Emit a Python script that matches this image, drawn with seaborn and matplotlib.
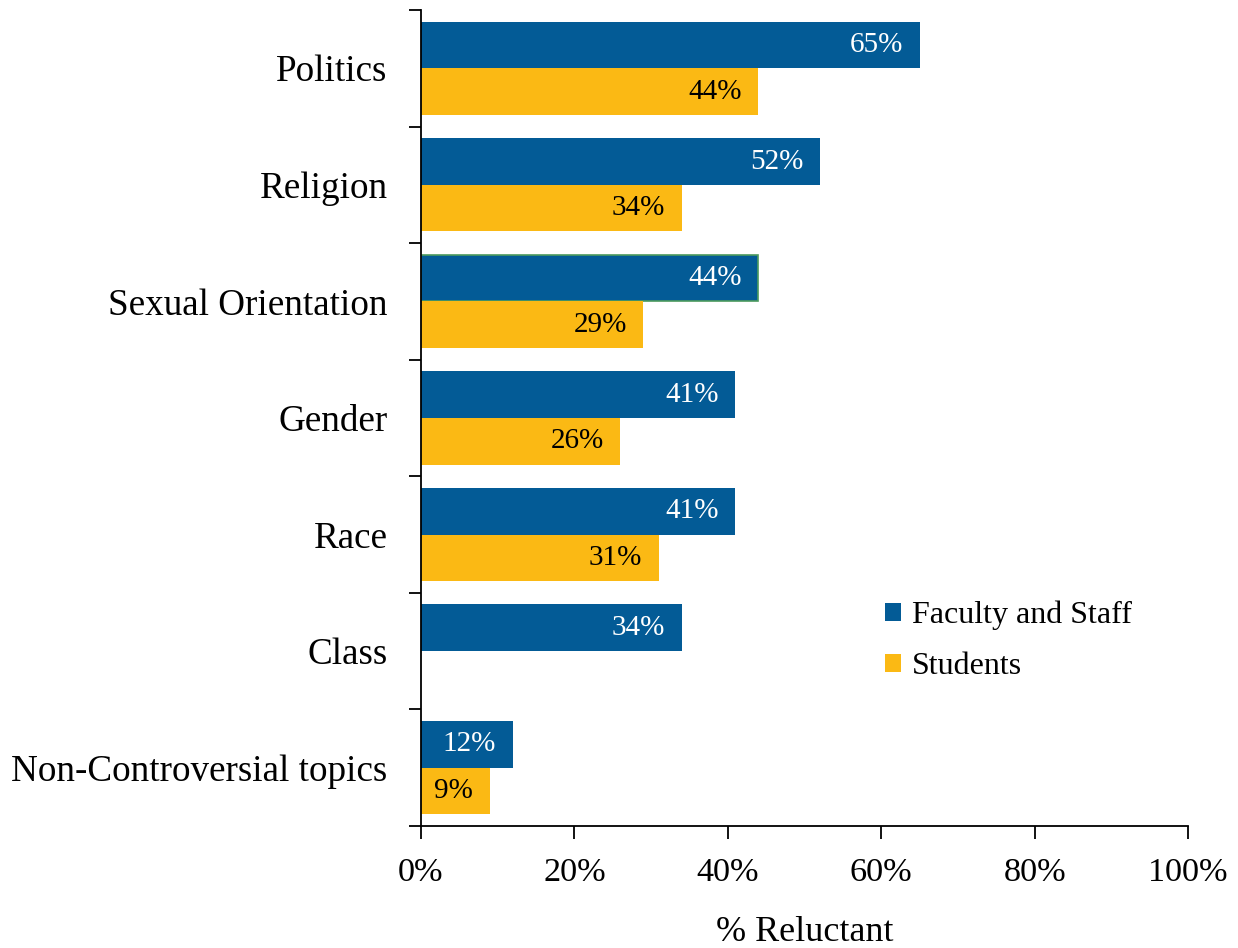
import numpy as np
import pandas as pd
import matplotlib
matplotlib.use("Agg")
import matplotlib.pyplot as plt
from matplotlib.patches import Patch
from matplotlib.ticker import FixedLocator, PercentFormatter
import seaborn as sns

# Share of respondents reluctant to discuss each topic (%)
topics = ["Politics", "Religion", "Sexual Orientation", "Gender", "Race",
          "Class", "Non-Controversial topics"]
faculty_staff = [65, 52, 44, 41, 41, 34, 12]
students = [44, 34, 29, 26, 31, np.nan, 9]
groups = ["Faculty and Staff", "Students"]
x_ticks = [0, 20, 40, 60, 80, 100]

BLUE = "#035B96"
GOLD = "#FBB914"

df = pd.DataFrame({
    "topic": topics * 2,
    "group": [groups[0]] * len(topics) + [groups[1]] * len(topics),
    "value": faculty_staff + students,
})

sns.set_theme(style="white")
plt.rcParams["font.family"] = ["Liberation Serif", "DejaVu Serif"]
plt.rcParams["text.color"] = "black"

fig = plt.figure(figsize=(12.38, 9.48), dpi=100)
ax = fig.add_axes([0.340, 0.1287, 0.6196, 0.8608])

sns.barplot(data=df, y="topic", x="value", hue="group", order=topics,
            hue_order=groups, palette=[BLUE, GOLD], orient="h",
            width=0.8, saturation=1, linewidth=0, legend=False, ax=ax)

# value labels inside the end of each bar; match each bar to its topic
# by the position of its centre on the categorical axis
label_colors = ["white", "black"]
series = [faculty_staff, students]
for container, vals, col in zip(ax.containers, series, label_colors):
    for patch in container.patches:
        y = patch.get_y() + patch.get_height() / 2
        idx = int(round(y))
        v = vals[idx]
        if np.isnan(v):
            continue
        ax.annotate(f"{v:.0f}%", xy=(v, y), xytext=(-12, 0),
                    textcoords="offset points", ha="right", va="center",
                    color=col, fontsize=21)

# thin outline on the Sexual Orientation faculty bar
for patch in ax.containers[0].patches:
    y = patch.get_y() + patch.get_height() / 2
    if int(round(y)) == topics.index("Sexual Orientation"):
        patch.set_edgecolor("#4C9A5E")
        patch.set_linewidth(1.2)

ax.set_xlim(0, 100)
ax.set_ylim(len(topics) - 0.5, -0.5)
ax.xaxis.set_major_locator(FixedLocator(x_ticks))
ax.xaxis.set_major_formatter(PercentFormatter(decimals=0))

# category separators on the y axis
ax.yaxis.set_minor_locator(FixedLocator(np.arange(-0.5, len(topics), 1.0)))
ax.tick_params(axis="y", which="major", length=0, pad=24, labelsize=26.7,
               labelcolor="black")
ax.tick_params(axis="y", which="minor", length=9, width=1.3, color="black",
               direction="out", left=True)
ax.tick_params(axis="x", which="major", length=9, width=1.3, color="black",
               direction="out", bottom=True, pad=14, labelsize=24.7,
               labelcolor="black")

for side in ["top", "right"]:
    ax.spines[side].set_visible(False)
for side in ["left", "bottom"]:
    ax.spines[side].set_color("black")
    ax.spines[side].set_linewidth(1.3)

ax.set_ylabel("")
ax.set_xlabel("% Reluctant", fontsize=26, color="black", labelpad=20)
ax.grid(False)

handles = [Patch(facecolor=BLUE, edgecolor="none"),
           Patch(facecolor=GOLD, edgecolor="none")]
ax.legend(handles, groups, loc="upper left",
          bbox_to_anchor=(885 / 1238, 1 - 601 / 948),
          bbox_transform=fig.transFigure, frameon=False, fontsize=23,
          labelcolor="black",
          handlelength=0.5, handleheight=0.5, handletextpad=0.35,
          labelspacing=0.68, borderaxespad=0, borderpad=0)

fig.savefig("out.png", dpi=100, facecolor="white")
